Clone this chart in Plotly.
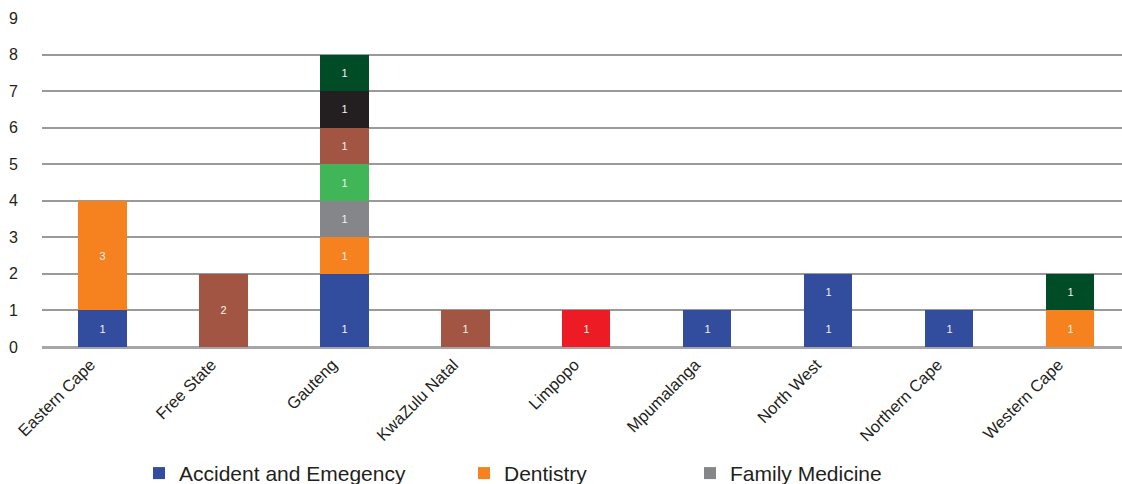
import plotly.graph_objects as go

# Provinces along the x axis
provinces = ["Eastern Cape", "Free State", "Gauteng", "KwaZulu Natal", "Limpopo",
             "Mpumalanga", "North West", "Northern Cape", "Western Cape"]

# Counts per specialty (stack order, bottom to top)
accident_emergency = [1, 0, 1, 0, 0, 1, 1, 1, 0]
anaesthesiology = [0, 0, 1, 0, 0, 0, 1, 0, 0]
dentistry = [3, 0, 1, 0, 0, 0, 0, 0, 1]
family_medicine = [0, 0, 1, 0, 0, 0, 0, 0, 0]
internal_medicine = [0, 0, 1, 0, 0, 0, 0, 0, 0]
obstetrics = [0, 2, 1, 1, 0, 0, 0, 0, 0]
paediatrics = [0, 0, 1, 0, 0, 0, 0, 0, 0]
psychiatry = [0, 0, 1, 0, 0, 0, 0, 0, 1]
surgery = [0, 0, 0, 0, 1, 0, 0, 0, 0]

# Which counts carry a data label
anaesthesiology_labelled = [False, False, False, False, False, False, True, False, False]

y_ticks = list(range(0, 10))

series = [
    ("Accident and Emegency", accident_emergency, "#324c9e", "legend", None),
    ("Anaesthesiology", anaesthesiology, "#324c9e", None, anaesthesiology_labelled),
    ("Dentistry", dentistry, "#f5821f", "legend2", None),
    ("Family Medicine", family_medicine, "#858689", "legend3", None),
    ("Internal Medicine", internal_medicine, "#41b658", None, None),
    ("Obstetrics and Gynaecology", obstetrics, "#a35543", None, None),
    ("Paediatrics", paediatrics, "#231f20", None, None),
    ("Psychiatry", psychiatry, "#004c27", None, None),
    ("Surgery", surgery, "#ed1c24", None, None),
]

FONT = "Liberation Sans, Arial, sans-serif"

fig = go.Figure()
for name, vals, color, leg, labelled in series:
    if labelled is None:
        labelled = [True] * len(vals)
    fig.add_trace(go.Bar(
        name=name,
        x=provinces,
        y=[v if v else None for v in vals],
        marker=dict(color=color, line=dict(width=0)),
        text=[str(v) if (v and lab) else "" for v, lab in zip(vals, labelled)],
        textposition="inside",
        insidetextanchor="middle",
        textangle=0,
        textfont=dict(family=FONT, size=11, color="#f2f2f2"),
        showlegend=leg is not None,
        legend=leg if leg else "legend",
        hoverinfo="x+y+name",
    ))

legend_common = dict(
    orientation="h",
    yref="paper",
    y=-0.322,
    yanchor="top",
    xanchor="left",
    xref="container",
    font=dict(family=FONT, size=21, color="#231f20"),
    bgcolor="rgba(0,0,0,0)",
    itemclick=False,
)

fig.update_layout(
    width=1122,
    height=484,
    barmode="stack",
    bargap=0.603,
    plot_bgcolor="white",
    paper_bgcolor="white",
    margin=dict(l=42, r=0, t=18, b=137, autoexpand=False),
    font=dict(family=FONT, color="#231f20"),
    legend=dict(legend_common, x=139 / 1122),
    legend2=dict(legend_common, x=464 / 1122),
    legend3=dict(legend_common, x=690 / 1122),
    xaxis=dict(
        range=[-0.5, 8.426],
        tickangle=-45,
        tickfont=dict(family=FONT, size=16.5, color="#231f20"),
        ticklabelshift=-12,
        ticklabelstandoff=4,
        showgrid=False,
        ticks="",
        showline=False,
    ),
    yaxis=dict(
        range=[0, 9],
        tickvals=y_ticks,
        tickfont=dict(family=FONT, size=16, color="#231f20"),
        showgrid=True,
        gridcolor="#9a9a9b",
        gridwidth=1.6,
        zeroline=True,
        zerolinecolor="#a6a6a8",
        zerolinewidth=2.5,
        ticks="outside",
        ticklen=20,
        tickcolor="rgba(0,0,0,0)",
        showline=False,
    ),
)

fig.write_html("out.html")
